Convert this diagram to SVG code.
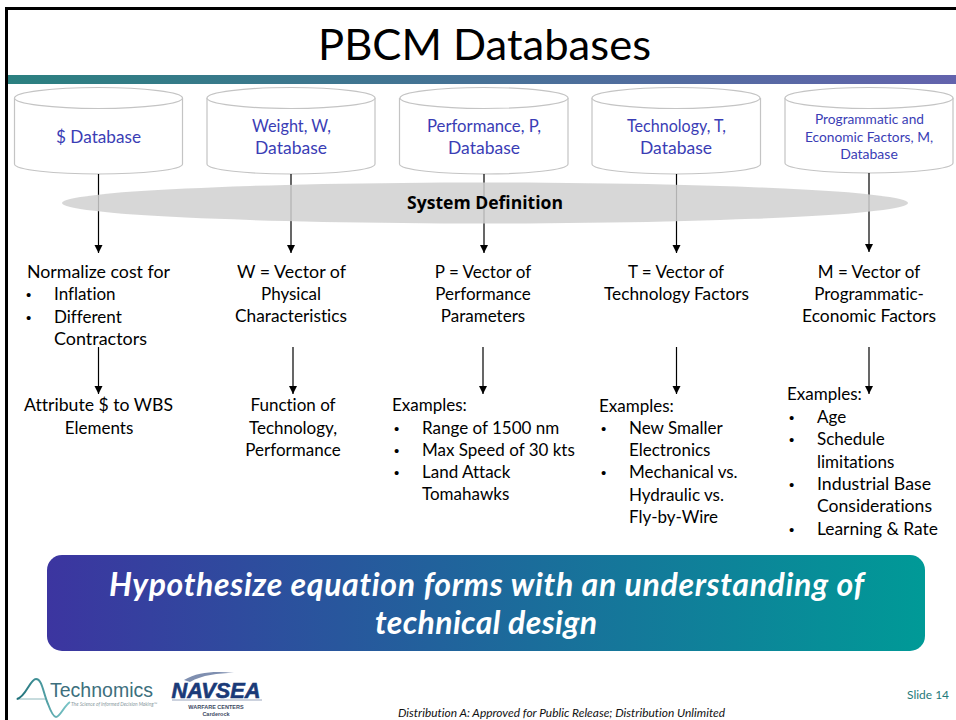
<svg xmlns="http://www.w3.org/2000/svg" width="956" height="720" viewBox="0 0 956 720">
<style>
text{font-family:Lato,"Open Sans","Liberation Sans",sans-serif;font-variant-ligatures:none}
.db{fill:#fff;stroke:#c4c4c4;stroke-width:1.2}
.dbt{fill:#3a3db5;font-size:17.5px;text-anchor:middle}
.b{fill:#000;font-size:17px}
.m{text-anchor:middle}
.u{font-family:"Liberation Sans",sans-serif;font-size:15px}
.c{stroke:#000;stroke-width:1.2;fill:none;marker-end:url(#a)}
.ban{font-size:32px;font-weight:700;font-style:italic;fill:#fff;text-anchor:middle}
</style>
<defs>
<marker id="a" markerUnits="userSpaceOnUse" markerWidth="9" markerHeight="9" refX="8" refY="4" orient="auto"><path d="M0 0L8 4L0 8z" fill="#000"/></marker>
<linearGradient id="bar" x1="0" x2="1" y1="0" y2="0"><stop offset="0" stop-color="#2b8080"/><stop offset="1" stop-color="#6363ad"/></linearGradient>
<linearGradient id="ban" x1="0" x2="1" y1="0" y2="0"><stop offset="0" stop-color="#3c35a0"/><stop offset="1" stop-color="#009a97"/></linearGradient>
<linearGradient id="wave" x1="0" x2="1" y1="0" y2="0"><stop offset="0" stop-color="#1d6f78"/><stop offset="1" stop-color="#7cc7c9"/></linearGradient>
</defs>
<rect width="956" height="720" fill="#fff"/>
<path d="M6.500 720V8.500H956" fill="none" stroke="#000" stroke-width="3"/>
<text x="484.500" y="60" font-size="43" text-anchor="middle" textLength="333" lengthAdjust="spacingAndGlyphs">PBCM Databases</text>
<rect x="8" y="75" width="948" height="9" fill="url(#bar)"/>
<g id="db1"><path class="db" d="M14.500 98V164C14.500 170 56 174 98.500 174S182.500 170 182.500 164V98"/><ellipse class="db" cx="98.500" cy="98" rx="84" ry="10.500"/><text class="dbt" x="98.500" y="143" textLength="85" lengthAdjust="spacingAndGlyphs">$ Database</text></g>
<g id="db2"><path class="db" d="M207 98V164C207 170 249 174 291 174S375 170 375 164V98"/><ellipse class="db" cx="291" cy="98" rx="84" ry="10.500"/><text class="dbt" x="291.500" y="132" textLength="79" lengthAdjust="spacingAndGlyphs">Weight, W,</text><text class="dbt" x="291" y="154">Database</text></g>
<g id="db3"><path class="db" d="M399.500 98V164C399.500 170 442 174 484 174S568 170 568 164V98"/><ellipse class="db" cx="484" cy="98" rx="84" ry="10.500"/><text class="dbt" x="484" y="132" textLength="114" lengthAdjust="spacingAndGlyphs">Performance, P,</text><text class="dbt" x="484" y="154">Database</text></g>
<g id="db4"><path class="db" d="M592 98V164C592 170 634 174 676 174S760.500 170 760.500 164V98"/><ellipse class="db" cx="676" cy="98" rx="84" ry="10.500"/><text class="dbt" x="676.500" y="132" textLength="99" lengthAdjust="spacingAndGlyphs">Technology, T,</text><text class="dbt" x="676" y="154">Database</text></g>
<g id="db5"><path class="db" d="M785 98V163C785 169 827 173 869 173S953 169 953 163V98"/><ellipse class="db" cx="869" cy="98" rx="84" ry="10.500"/><text class="dbt" style="font-size:14px" x="869.500" y="124" textLength="109" lengthAdjust="spacingAndGlyphs">Programmatic and</text><text class="dbt" style="font-size:14px" x="869" y="142" textLength="128" lengthAdjust="spacingAndGlyphs">Economic Factors, M,</text><text class="dbt" style="font-size:14px" x="869" y="159">Database</text></g>
<g id="connectors">
<path class="c" d="M98.500 174V253"/><path class="c" d="M291 174V253"/><path class="c" d="M484 174V253"/><path class="c" d="M676.500 174V253"/><path class="c" d="M869 173V252"/>
<path class="c" d="M98.500 347V394"/><path class="c" d="M293 347V394"/><path class="c" d="M483 347V394"/><path class="c" d="M676.500 347V394"/><path class="c" d="M869 347V394"/>
</g>
<g id="system"><ellipse cx="485" cy="203" rx="423" ry="20.500" fill="#d0d0d0" fill-opacity=".85"/><text x="485" y="209" font-size="17" font-weight="700" text-anchor="middle" textLength="156" lengthAdjust="spacingAndGlyphs" style="font-family:'Open Sans',Lato,sans-serif">System Definition</text></g>
<g id="col1"><text class="b" x="27" y="278" textLength="143" lengthAdjust="spacingAndGlyphs">Normalize cost for</text>
<text class="b u" x="26" y="300">•</text><text class="b" x="54" y="300">Inflation</text>
<text class="b u" x="26" y="323">•</text><text class="b" x="54" y="323">Different</text>
<text class="b" x="54" y="345" textLength="93" lengthAdjust="spacingAndGlyphs">Contractors</text>
<text class="b m" x="98.500" y="411" textLength="149" lengthAdjust="spacingAndGlyphs">Attribute $ to WBS</text><text class="b m" x="99" y="434">Elements</text></g>
<g id="col2"><text class="b m" x="291.500" y="278" textLength="109" lengthAdjust="spacingAndGlyphs">W = Vector of</text><text class="b m" x="291" y="300">Physical</text><text class="b m" x="291" y="322" textLength="112" lengthAdjust="spacingAndGlyphs">Characteristics</text>
<text class="b m" x="293" y="411">Function of</text><text class="b m" x="293" y="434">Technology,</text><text class="b m" x="293" y="456">Performance</text></g>
<g id="col3"><text class="b m" x="483" y="278">P = Vector of</text><text class="b m" x="483" y="300">Performance</text><text class="b m" x="483" y="322">Parameters</text>
<text class="b" x="392" y="411">Examples:</text>
<text class="b u" x="394" y="434">•</text><text class="b" x="422" y="434">Range of 1500 nm</text>
<text class="b u" x="394" y="456">•</text><text class="b" x="422" y="456">Max Speed of 30 kts</text>
<text class="b u" x="394" y="478">•</text><text class="b" x="422" y="478">Land Attack</text>
<text class="b" x="422" y="500">Tomahawks</text></g>
<g id="col4"><text class="b m" x="676" y="278">T = Vector of</text><text class="b m" x="676.500" y="300" textLength="145" lengthAdjust="spacingAndGlyphs">Technology Factors</text>
<text class="b" x="599" y="412">Examples:</text>
<text class="b u" x="601" y="434">•</text><text class="b" x="629" y="434">New Smaller</text>
<text class="b" x="629" y="456">Electronics</text>
<text class="b u" x="601" y="478">•</text><text class="b" x="629" y="478">Mechanical vs.</text>
<text class="b" x="629" y="501">Hydraulic vs.</text>
<text class="b" x="629" y="523">Fly-by-Wire</text></g>
<g id="col5"><text class="b m" x="869" y="278">M = Vector of</text><text class="b m" x="869" y="300">Programmatic-</text><text class="b m" x="869" y="322" textLength="134" lengthAdjust="spacingAndGlyphs">Economic Factors</text>
<text class="b" x="787" y="400">Examples:</text>
<text class="b u" x="789" y="423">•</text><text class="b" x="817" y="423">Age</text>
<text class="b u" x="789" y="445">•</text><text class="b" x="817" y="445">Schedule</text>
<text class="b" x="817" y="468">limitations</text>
<text class="b u" x="789" y="490">•</text><text class="b" x="817" y="490" textLength="114" lengthAdjust="spacingAndGlyphs">Industrial Base</text>
<text class="b" x="817" y="512" textLength="115" lengthAdjust="spacingAndGlyphs">Considerations</text>
<text class="b u" x="789" y="535">•</text><text class="b" x="817" y="535" textLength="121" lengthAdjust="spacingAndGlyphs">Learning &amp; Rate</text></g>
<g id="banner"><rect x="47" y="555" width="878" height="96" rx="15" fill="url(#ban)"/>
<text class="ban" x="486.500" y="596" textLength="755" lengthAdjust="spacing">Hypothesize equation forms with an understanding of</text>
<text class="ban" x="486" y="634" textLength="222" lengthAdjust="spacing">technical design</text></g>
<g id="technomics">
<path d="M16 699H46" stroke="#8fb8bc" stroke-width="1"/>
<path d="M17 699C26 697 30 679 36 679C42 679 43 692 48 704C51 712 54 717 56 717C60 717 64 706 70 702" fill="none" stroke="url(#wave)" stroke-width="2"/>
<text x="50" y="697" font-size="20" fill="#3d6f7d" textLength="103" lengthAdjust="spacingAndGlyphs" style="font-family:'Liberation Sans',sans-serif">Technomics</text>
<text x="71" y="706" font-size="5" font-style="italic" fill="#8a9aa0" textLength="86" lengthAdjust="spacingAndGlyphs">The Science of Informed Decision Making™</text></g>
<g id="navsea">
<path d="M184 680C198 672 215 671 234 673C218 673 202 675 190 682z" fill="#7f8fb0"/>
<text x="216" y="698" font-size="22" font-weight="900" font-style="italic" fill="#1a3a78" stroke="#1a3a78" stroke-width=".6" text-anchor="middle" textLength="89" lengthAdjust="spacingAndGlyphs" style="font-family:'Liberation Sans',sans-serif">NAVSEA</text>
<path d="M172 700H262" stroke="#9aa6bd" stroke-width="1"/>
<text x="216" y="709" font-size="5.500" font-weight="700" fill="#3d4a63" text-anchor="middle" style="font-family:'Liberation Sans',sans-serif">WARFARE CENTERS</text>
<text x="216" y="716" font-size="5.500" font-weight="700" fill="#3d4a63" text-anchor="middle" style="font-family:'Liberation Sans',sans-serif">Carderock</text></g>
<text x="907" y="699" font-size="12" fill="#1f7a7a" textLength="42" lengthAdjust="spacingAndGlyphs">Slide 14</text>
<text x="561.500" y="717" font-size="11.500" font-style="italic" fill="#111" text-anchor="middle" textLength="327" lengthAdjust="spacingAndGlyphs">Distribution A: Approved for Public Release; Distribution Unlimited</text>
</svg>
